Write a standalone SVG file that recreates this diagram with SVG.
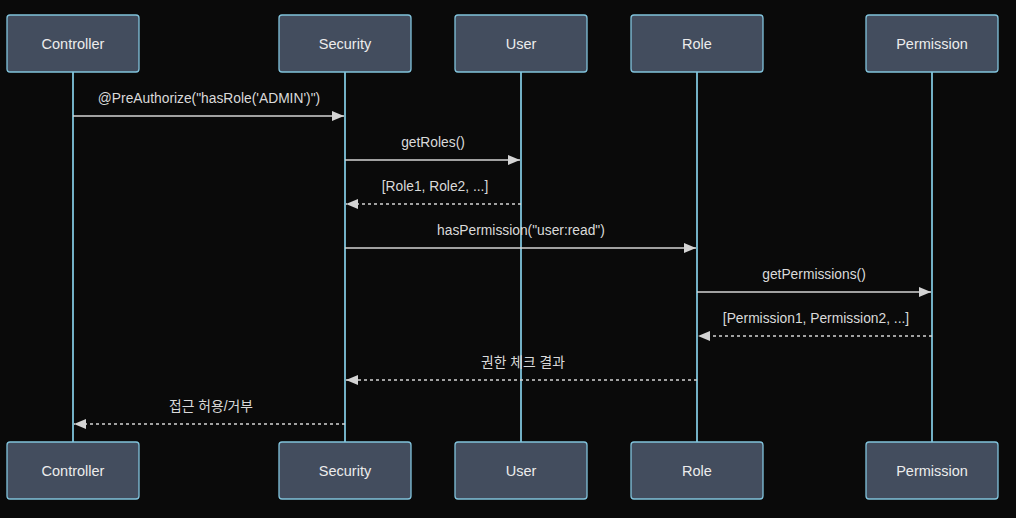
<svg xmlns="http://www.w3.org/2000/svg" width="1016" height="518" viewBox="0 0 1016 518">
<style>
.actor{fill:#434d5e;stroke:#81c3dc;stroke-width:1.3}
.atext{font-family:"Liberation Sans","Noto Sans CJK KR",sans-serif;font-size:14.5px;fill:#ececec;text-anchor:middle;dominant-baseline:central}
.life{stroke:#86cfe8;stroke-width:1.7}
.msg{stroke:#d4d4d4;stroke-width:1.5;fill:none}
.dash{stroke-dasharray:3,3}
.mtext{font-family:"Liberation Sans","Noto Sans CJK KR",sans-serif;font-size:13.8px;fill:#dadada;text-anchor:middle;dominant-baseline:central}
</style>
<defs>
<marker id="ah" viewBox="0 0 12 10" refX="12" refY="5" markerWidth="12" markerHeight="10" markerUnits="userSpaceOnUse" orient="auto">
<path d="M0,0 L12,5 L0,10 z" fill="#d4d4d4"/>
</marker>
</defs>
<rect width="1016" height="518" fill="#0a0a0a"/>
<g id="lifelines">
<line class="life" x1="73" y1="72" x2="73" y2="442"/>
<line class="life" x1="345" y1="72" x2="345" y2="442"/>
<line class="life" x1="521" y1="72" x2="521" y2="442"/>
<line class="life" x1="697" y1="72" x2="697" y2="442"/>
<line class="life" x1="932" y1="72" x2="932" y2="442"/>
</g>
<g id="controller-top"><rect class="actor" x="7" y="15" width="132" height="57" rx="3"/><text class="atext" x="73" y="44">Controller</text></g>
<g id="security-top"><rect class="actor" x="279" y="15" width="132" height="57" rx="3"/><text class="atext" x="345" y="44">Security</text></g>
<g id="user-top"><rect class="actor" x="455" y="15" width="132" height="57" rx="3"/><text class="atext" x="521" y="44">User</text></g>
<g id="role-top"><rect class="actor" x="631" y="15" width="132" height="57" rx="3"/><text class="atext" x="697" y="44">Role</text></g>
<g id="permission-top"><rect class="actor" x="866" y="15" width="132" height="57" rx="3"/><text class="atext" x="932" y="44">Permission</text></g>
<g id="controller-bottom"><rect class="actor" x="7" y="442" width="132" height="57" rx="3"/><text class="atext" x="73" y="471">Controller</text></g>
<g id="security-bottom"><rect class="actor" x="279" y="442" width="132" height="57" rx="3"/><text class="atext" x="345" y="471">Security</text></g>
<g id="user-bottom"><rect class="actor" x="455" y="442" width="132" height="57" rx="3"/><text class="atext" x="521" y="471">User</text></g>
<g id="role-bottom"><rect class="actor" x="631" y="442" width="132" height="57" rx="3"/><text class="atext" x="697" y="471">Role</text></g>
<g id="permission-bottom"><rect class="actor" x="866" y="442" width="132" height="57" rx="3"/><text class="atext" x="932" y="471">Permission</text></g>
<g id="connectors">
<line class="msg" x1="73" y1="116" x2="344" y2="116" marker-end="url(#ah)"/>
<text class="mtext" x="209" y="98">@PreAuthorize("hasRole('ADMIN')")</text>
<line class="msg" x1="345" y1="160" x2="520" y2="160" marker-end="url(#ah)"/>
<text class="mtext" x="433" y="142">getRoles()</text>
<line class="msg dash" x1="521" y1="204" x2="346" y2="204" marker-end="url(#ah)"/>
<text class="mtext" x="435" y="186">[Role1, Role2, ...]</text>
<line class="msg" x1="345" y1="248" x2="696" y2="248" marker-end="url(#ah)"/>
<text class="mtext" x="521" y="230">hasPermission("user:read")</text>
<line class="msg" x1="697" y1="292" x2="931" y2="292" marker-end="url(#ah)"/>
<text class="mtext" x="814" y="274">getPermissions()</text>
<line class="msg dash" x1="932" y1="336" x2="698" y2="336" marker-end="url(#ah)"/>
<text class="mtext" x="816" y="318">[Permission1, Permission2, ...]</text>
<line class="msg dash" x1="697" y1="380" x2="346" y2="380" marker-end="url(#ah)"/>
<text class="mtext" x="523" y="362">권한 체크 결과</text>
<line class="msg dash" x1="345" y1="424" x2="74" y2="424" marker-end="url(#ah)"/>
<text class="mtext" x="211" y="406">접근 허용/거부</text>
</g>
</svg>
